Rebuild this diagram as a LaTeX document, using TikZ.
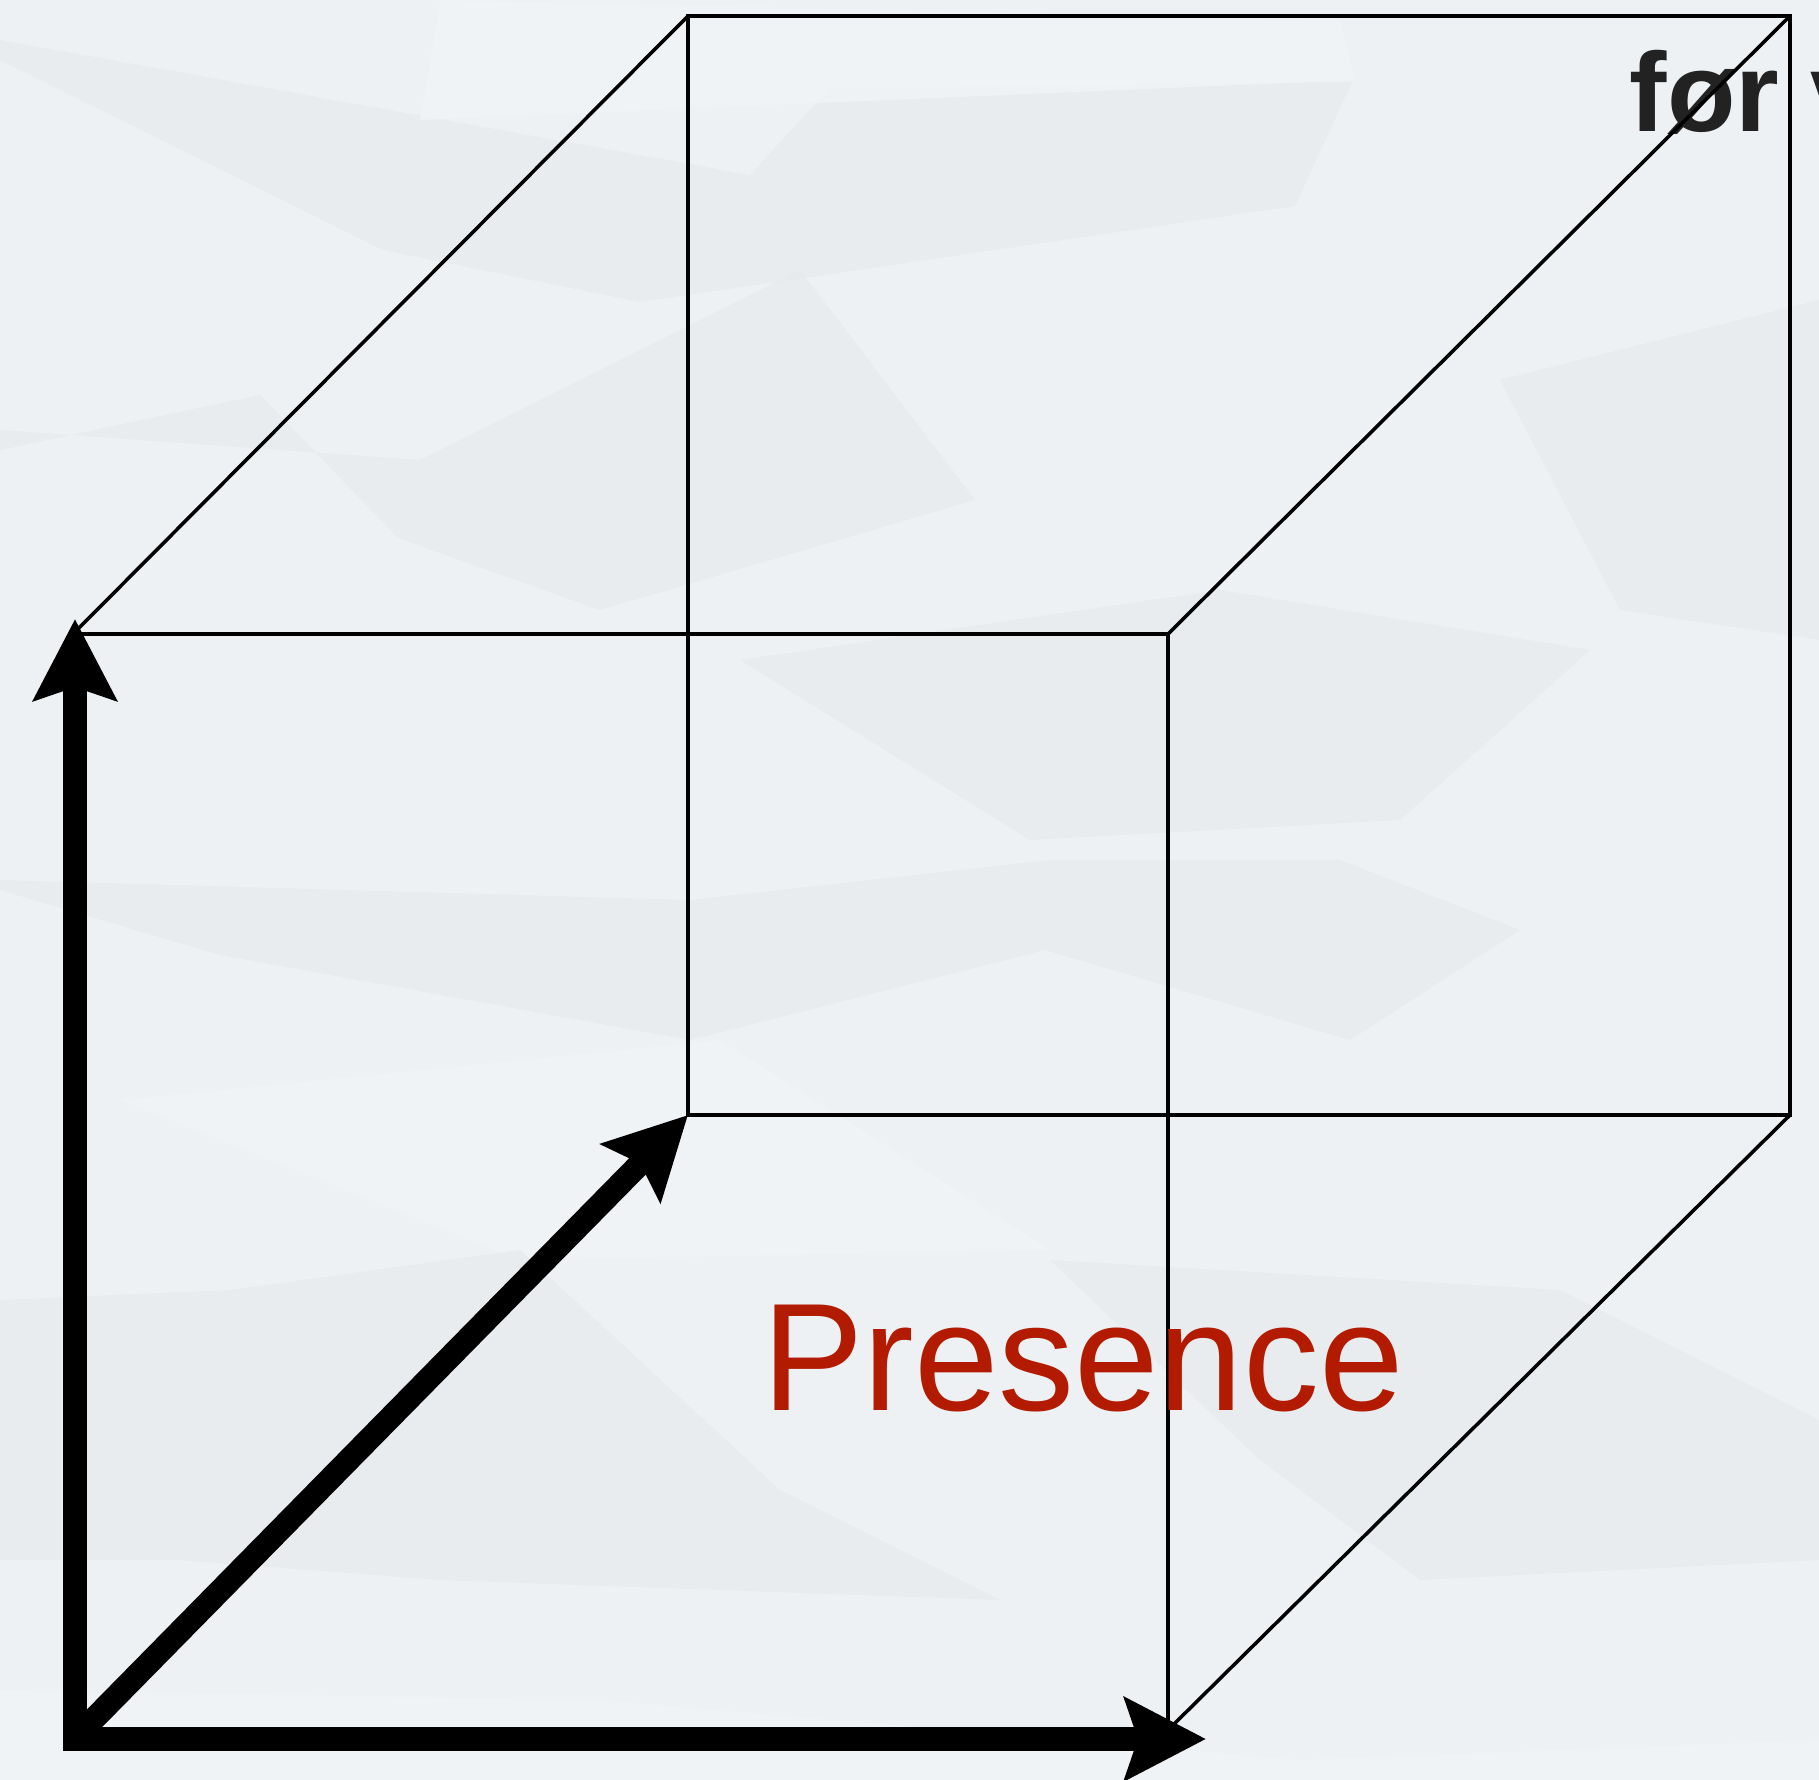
\documentclass[tikz,border=0pt]{standalone}
\usepackage{fontspec}
\setmainfont{Liberation Sans}
\usetikzlibrary{arrows.meta}
\definecolor{bgc}{RGB}{237,241,243}
\definecolor{patchc}{RGB}{230,234,237}
\definecolor{patchl}{RGB}{241,244,246}
\definecolor{presc}{RGB}{179,27,0}
\definecolor{txtc}{RGB}{34,34,34}
\tikzset{
  edge/.style={line width=1pt, draw=black},
  bigarrow/.style={line width=6.6pt, draw=black, line cap=butt,
    -{Stealth[length=0.81cm,width=0.82cm,inset=0.13cm]}},
  patch/.style={fill=patchc, opacity=0.7},
  patchlight/.style={fill=patchl, opacity=0.8},
}
\begin{document}
\begin{tikzpicture}[x=0.01cm,y=-0.01cm]
\useasboundingbox (0,0) rectangle (1819,1780);
\clip (0,0) rectangle (1819,1780);
\fill[bgc] (0,0) rectangle (1819,1780);
% faint background facets
\fill[patch] (0,60) -- (383,250) -- (640,302) -- (1295,206) -- (1352,82) -- (830,88) -- (750,175) -- (0,40) -- cycle;
\fill[patch] (0,450) -- (260,395) -- (398,538) -- (600,610) -- (975,500) -- (800,270) -- (420,460) -- (0,430) -- cycle;
\fill[patchlight] (440,0) -- (1340,20) -- (1355,80) -- (420,120) -- cycle;
\fill[patch] (740,660) -- (1030,840) -- (1400,820) -- (1590,650) -- (1220,590) -- cycle;
\fill[patch] (0,890) -- (220,955) -- (690,1040) -- (1045,950) -- (1350,1040) -- (1520,930) -- (1340,860) -- (1050,860) -- (690,900) -- (0,880) -- cycle;
\fill[patchlight] (120,1100) -- (720,1040) -- (1050,1250) -- (520,1260) -- cycle;
\fill[patch] (0,1300) -- (230,1290) -- (520,1250) -- (780,1490) -- (1000,1600) -- (440,1580) -- (180,1560) -- (0,1560) -- cycle;
\fill[patch] (1050,1260) -- (1560,1290) -- (1819,1420) -- (1819,1560) -- (1420,1580) -- (1260,1460) -- cycle;
\fill[patch] (1500,380) -- (1819,300) -- (1819,640) -- (1620,610) -- cycle;
\fill[patchlight] (0,1690) -- (600,1700) -- (1300,1760) -- (1819,1740) -- (1819,1780) -- (0,1780) -- cycle;

% cube corners
\coordinate (fTL) at (73,634);
\coordinate (fTR) at (1168,634);
\coordinate (fBR) at (1168,1730);
\coordinate (bTL) at (688,16);
\coordinate (bTR) at (1790,16);
\coordinate (bBR) at (1790,1115);
\coordinate (bBL) at (688,1115);
% arrow end points
\coordinate (origin) at (75,1750);
\coordinate (originH) at (63,1739);
\coordinate (originD) at (82,1731);
\coordinate (upTip) at (75,619);
\coordinate (rightTip) at (1206,1739);

% thin edges
\draw[edge] (fTL) -- (fTR) -- (fBR);
\draw[edge] (bBL) -- (bTL) -- (bTR) -- (bBR) -- cycle;
\draw[edge] (fTL) -- (bTL);
\draw[edge] (fBR) -- (bBR);

% labels
\node[anchor=base, text=presc, inner sep=0pt, xscale=0.99,
  font=\fontsize{43.6pt}{52pt}\selectfont] (presence) at (1083,1410) {Presence};
\node[anchor=base west, text=txtc, inner sep=0pt,
  font=\bfseries\fontsize{31.9pt}{38pt}\selectfont] (forv) at (1629,132) {før v};
\draw[edge] (fTR) -- (bTR);

% thick axis arrows
\draw[bigarrow] (origin) -- (upTip);
\draw[bigarrow] (originH) -- (rightTip);
\draw[bigarrow] (originD) -- (bBL);
\end{tikzpicture}
\end{document}
